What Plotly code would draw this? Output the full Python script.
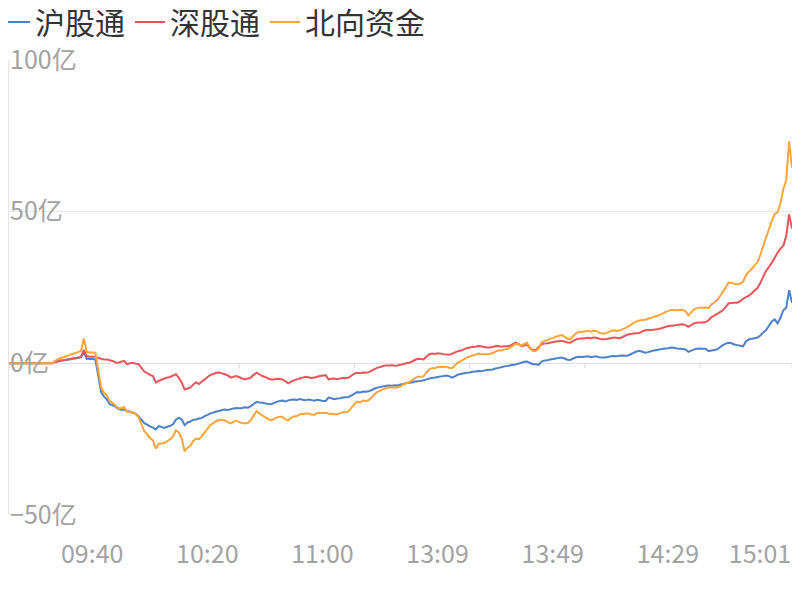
import plotly.graph_objects as go

# ---- categories (trading minutes) ----
times = []
for h in range(9, 12):
    for m in range(60):
        if (h == 11 and m > 30):
            break
        times.append(f"{h:02d}:{m:02d}")
for h in range(13, 16):
    for m in range(60):
        if h == 15 and m > 1:
            break
        times.append(f"{h:02d}:{m:02d}")

tick_cats = ["09:00", "09:40", "10:20", "11:00", "13:09", "13:49", "14:29", "15:01"]
tick_text = ["", "09:40", "10:20", "11:00", "13:09", "13:49", "14:29", "15:01"]

series_names = ["沪股通", "深股通", "北向资金"]

# ---- values (亿) ----
sh = [0, 0, 0, 0, 0, 0, 0, 0, 0, 0,
      0, 0, 0, 0, 0, 0, 0.4, 0.7, 0.9, 1.0,
      1.2, 1.3, 1.5, 1.6, 1.8, 2.0, 3.8, 1.5, 1.4, 1.4,
      1.3, -4.0, -9.5, -11.0, -11.9, -13.5, -13.8, -14.3, -15.0, -15.3,
      -15.2, -15.7, -15.9, -16.3, -16.6, -17.4, -18.6, -19.7, -20.2, -20.8,
      -21.2, -21.8, -20.7, -21.0, -21.3, -20.9, -20.6, -20.1, -18.5, -18.0,
      -18.5, -20.4, -19.5, -19.2, -18.6, -18.5, -18.2, -18.0, -17.4, -17.0,
      -16.5, -16.2, -15.9, -15.7, -15.4, -15.2, -15.4, -15.1, -14.9, -14.7,
      -14.8, -14.7, -14.5, -14.6, -14.1, -13.4, -12.7, -12.9, -13.0, -13.2,
      -13.4, -13.5, -13.1, -12.7, -12.4, -12.3, -12.6, -12.2, -12.0, -11.9,
      -12.1, -11.8, -12.0, -12.2, -11.9, -12.1, -12.3, -12.0, -12.2, -12.4,
      -12.4, -11.3, -11.5, -11.8, -11.6, -11.5, -11.3, -11.2, -11.1, -10.6,
      -10.0, -9.5, -9.6, -9.3, -9.4, -9.2, -8.8, -8.3, -8.0, -7.8,
      -7.6, -7.4, -7.3, -7.4, -7.2, -7.3, -7.0, -6.8, -6.5, -6.4,
      -6.3, -6.0, -5.9, -5.8, -5.6, -5.3, -5.0, -4.8, -4.7, -4.5,
      -4.3, -4.2, -4.0, -4.3, -4.7, -4.2, -3.7, -3.5, -3.3, -3.1,
      -3.0, -2.8, -2.7, -2.5, -2.6, -2.4, -2.2, -2.1, -2.0, -1.7,
      -1.5, -1.3, -1.0, -0.9, -0.7, -0.5, -0.4, -0.1, 0.2, 0.5,
      0.6, 0.1, -0.3, -0.3, -0.5, 0.6, 0.9, 1.0, 1.3, 1.4,
      1.6, 1.8, 1.9, 1.6, 1.2, 1.1, 1.6, 2.0, 2.2, 2.1,
      2.2, 2.3, 2.1, 2.2, 2.3, 2.0, 1.9, 1.9, 2.1, 2.3,
      2.4, 2.3, 2.5, 2.6, 2.5, 2.6, 3.0, 3.5, 3.9, 4.1,
      3.8, 3.5, 3.7, 4.0, 4.2, 4.4, 4.6, 4.7, 4.9, 5.0,
      5.2, 5.1, 4.9, 4.8, 4.7, 4.6, 3.8, 4.2, 4.6, 4.8,
      4.9, 4.8, 4.8, 4.0, 4.2, 4.4, 4.6, 5.3, 6.0, 6.5,
      6.8, 6.6, 6.2, 6.0, 5.8, 5.6, 7.2, 7.9, 8.1, 8.3,
      8.5, 9.2, 10.2, 11.0, 12.4, 13.8, 14.5, 13.2, 15.0, 17.5,
      18.3, 24.1, 20.0]

sz = [0, 0, 0, 0, 0, 0, 0, 0, 0, 0,
      0, 0, 0, 0, 0, 0, 0.4, 0.7, 0.9, 1.0,
      1.2, 1.4, 1.6, 1.8, 1.9, 2.1, 4.4, 2.3, 2.2, 2.2,
      2.2, 1.8, 1.5, 1.3, 1.3, 1.0, 0.8, 0.3, 0.2, 0.5,
      0.8, -0.3, 0.0, 0.2, -0.1, -0.3, -1.5, -2.7, -3.2, -3.8,
      -4.2, -6.3, -5.8, -5.4, -5.0, -4.7, -4.5, -4.0, -3.6, -4.8,
      -6.3, -8.6, -8.3, -8.0, -7.0, -6.3, -6.8, -6.0, -5.3, -4.5,
      -3.8, -3.5, -3.1, -3.0, -3.3, -3.6, -4.0, -4.7, -4.4, -4.2,
      -4.6, -5.0, -5.3, -5.0, -4.7, -3.8, -3.1, -3.6, -4.2, -4.5,
      -5.0, -5.3, -5.3, -5.1, -5.2, -5.3, -5.9, -6.6, -6.0, -5.6,
      -5.3, -5.0, -4.7, -4.4, -4.6, -4.8, -4.7, -4.4, -4.2, -4.0,
      -3.9, -5.3, -5.1, -5.0, -5.2, -5.0, -4.8, -4.9, -4.7, -4.0,
      -3.4, -3.1, -3.3, -3.0, -3.1, -2.9, -2.4, -1.9, -1.4, -1.2,
      -0.9, -0.7, -0.7, -0.6, -0.8, -0.7, -0.5, -0.2, 0.0, 0.2,
      0.6, 1.1, 1.5, 1.4, 1.3, 2.2, 3.0, 3.2, 3.1, 3.3,
      3.2, 3.0, 2.9, 2.8, 3.2, 3.6, 4.0, 4.2, 4.6, 5.0,
      5.2, 5.4, 5.5, 5.7, 5.6, 5.4, 5.2, 5.2, 5.4, 5.6,
      5.7, 5.5, 5.6, 5.6, 5.8, 6.3, 6.8, 6.3, 5.7, 5.9,
      6.2, 5.0, 4.4, 4.4, 5.4, 6.3, 6.5, 6.6, 6.8, 7.0,
      7.2, 7.3, 7.4, 7.2, 6.9, 6.8, 7.4, 7.9, 8.1, 8.2,
      8.3, 8.4, 8.3, 8.5, 8.4, 8.1, 7.9, 7.9, 8.1, 8.3,
      8.5, 8.4, 8.3, 8.6, 9.1, 9.5, 9.7, 9.8, 9.9, 10.0,
      10.5, 10.9, 11.0, 11.0, 11.1, 11.2, 11.4, 11.7, 12.0, 12.3,
      12.4, 12.5, 12.6, 12.8, 12.9, 12.6, 12.0, 12.6, 13.2, 13.4,
      13.5, 13.5, 13.6, 14.2, 15.2, 15.7, 16.3, 16.9, 17.5, 18.6,
      19.8, 19.9, 20.0, 20.0, 20.5, 21.3, 21.8, 22.3, 23.0, 24.0,
      24.8, 26.5, 28.5, 30.5, 31.8, 33.2, 34.8, 36.5, 37.8, 38.8,
      42.0, 49.1, 44.4]

bx = [0, 0, 0, 0, 0, 0, 0, 0, 0, 0,
      0, 0, 0, 0, 0, 0, 0.8, 1.4, 1.8, 2.0,
      2.4, 2.7, 3.1, 3.4, 3.7, 4.1, 8.2, 3.8, 3.6, 3.6,
      3.5, -2.2, -8.0, -9.7, -10.6, -12.5, -13.0, -14.0, -14.8, -14.8,
      -14.4, -16.0, -15.9, -16.1, -16.7, -17.7, -20.1, -22.4, -23.4, -24.6,
      -25.4, -28.1, -26.5, -26.4, -26.3, -25.6, -25.1, -24.1, -22.1, -22.8,
      -24.8, -29.0, -27.8, -27.2, -25.6, -24.8, -25.0, -24.0, -22.7, -21.5,
      -20.3, -19.7, -19.0, -18.7, -18.7, -18.8, -19.4, -19.8, -19.3, -18.9,
      -19.4, -19.7, -19.8, -19.6, -18.8, -17.2, -15.8, -16.5, -17.2, -17.7,
      -18.4, -18.8, -18.4, -17.8, -17.6, -17.6, -18.5, -18.8, -18.0, -17.5,
      -17.4, -16.8, -16.7, -16.6, -16.5, -16.9, -17.0, -16.4, -16.4, -16.4,
      -16.3, -16.6, -16.6, -16.8, -16.8, -16.5, -16.1, -16.1, -15.8, -14.6,
      -13.4, -12.6, -12.9, -12.3, -12.5, -12.1, -11.2, -10.2, -9.4, -9.0,
      -8.5, -8.1, -8.0, -8.0, -8.0, -8.0, -7.5, -7.0, -6.5, -6.2,
      -5.7, -4.9, -4.4, -4.4, -4.3, -3.1, -2.0, -1.6, -1.6, -1.2,
      -1.1, -1.2, -1.1, -1.5, -1.5, -0.6, 0.3, 0.7, 1.3, 1.9,
      2.2, 2.6, 2.8, 3.2, 3.0, 3.0, 3.0, 3.1, 3.4, 3.9,
      4.2, 4.2, 4.6, 4.7, 5.1, 5.8, 6.4, 6.2, 5.9, 6.4,
      6.8, 5.1, 4.1, 4.1, 4.9, 6.9, 7.4, 7.6, 8.1, 8.4,
      8.8, 9.1, 9.3, 8.8, 8.1, 7.9, 9.0, 9.9, 10.3, 10.3,
      10.5, 10.7, 10.4, 10.7, 10.7, 10.1, 9.8, 9.8, 10.2, 10.6,
      10.9, 10.7, 10.8, 11.2, 11.6, 12.1, 12.7, 13.3, 13.8, 14.1,
      14.3, 14.4, 14.7, 15.0, 15.3, 15.6, 16.0, 16.4, 16.9, 17.3,
      17.6, 17.6, 17.5, 17.6, 17.6, 17.2, 15.8, 16.8, 17.8, 18.2,
      18.4, 18.3, 18.4, 18.2, 19.4, 20.1, 20.9, 22.2, 23.5, 25.1,
      26.6, 26.5, 26.2, 26.0, 26.3, 26.9, 29.0, 30.2, 31.1, 32.3,
      33.3, 35.7, 38.7, 41.5, 44.2, 47.0, 49.3, 49.7, 52.8, 57.5,
      60.3, 73.2, 64.4]

colors = ["#4d82c8", "#e8565c", "#f9a63a"]
FONT = "Noto Sans CJK SC"

fig = go.Figure()
for name, vals, c in zip(series_names, [sh, sz, bx], colors):
    fig.add_trace(go.Scatter(x=times, y=vals, name=name, mode="lines",
                             line=dict(color=c, width=2, simplify=False),
                             cliponaxis=False))

# small tick marks on the zero line
shapes = []
for cat in tick_cats:
    shapes.append(dict(type="line", xref="x", yref="y", x0=cat, x1=cat,
                       ysizemode="pixel", yanchor=0, y0=0, y1=-5,
                       line=dict(color="#dddddd", width=1), layer="below"))

# the page body adds an 8px margin on every side; keep the figure inside
# the 800x600 window so that no scrollbar appears
W, H = 784, 584
ML, MR, MT, MB = 1, 0, 52, 77
PW, PH = W - ML - MR, H - MT - MB

fig.update_layout(
    width=W, height=H,
    margin=dict(l=ML, r=MR, t=MT, b=MB, autoexpand=False),
    paper_bgcolor="white", plot_bgcolor="white",
    font=dict(family=FONT),
    showlegend=True,
    legend=dict(orientation="h", x=-14 / PW, xref="paper", xanchor="left",
                y=1 + (MT + 12) / PH, yref="paper", yanchor="top",
                font=dict(size=30, color="#333333", family=FONT),
                itemwidth=30, bgcolor="rgba(0,0,0,0)"),
    shapes=shapes,
)
fig.update_xaxes(type="category", range=[0, len(times) - 1], automargin=False,
                 showgrid=False, zeroline=False, showline=False,
                 tickmode="array", tickvals=tick_cats, ticktext=tick_text,
                 ticks="", ticklabelshift=-32, ticklabelstandoff=22,
                 ticklabeloverflow="allow",
                 tickfont=dict(size=25, color="#a3a3a3", family=FONT))
fig.update_yaxes(range=[-50, 100], tick0=0, dtick=50, ticksuffix="亿",
                 automargin=False,
                 showgrid=True, gridcolor="#e8e8e8", gridwidth=1,
                 zeroline=True, zerolinecolor="#e0e0e0", zerolinewidth=1,
                 showline=True, linecolor="#e6e6e6", linewidth=1,
                 ticks="", ticklabelposition="inside", ticklabelstandoff=3,
                 ticklabeloverflow="allow",
                 tickfont=dict(size=25, color="#a3a3a3", family=FONT))

fig.write_html("out.html")
